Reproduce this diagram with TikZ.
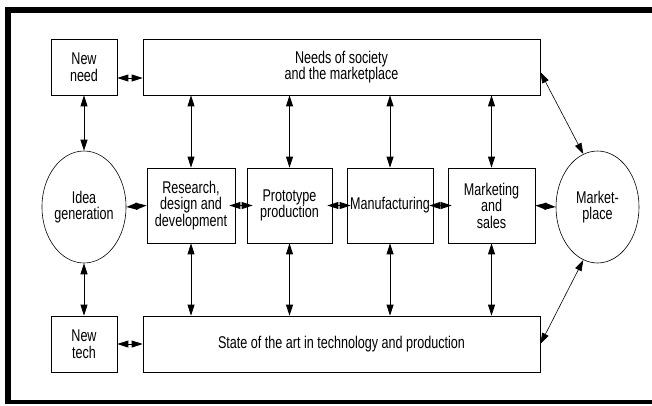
\documentclass[tikz,border=0pt]{standalone}
\usepackage{fontspec}
\setmainfont{Liberation Sans}[FakeStretch=0.74]
\usetikzlibrary{shapes.geometric,arrows.meta,calc}
\begin{document}
\begin{tikzpicture}[x=1pt,y=1pt,
  every node/.style={font=\fontsize{17}{16.5}\selectfont, align=center, inner sep=0pt},
  blk/.style={draw, line width=0.8pt, rectangle},
  oval/.style={draw, line width=0.6pt, ellipse, minimum width=84, minimum height=112},
  link/.style={line width=0.9pt, {Triangle[length=11pt,width=7pt]}-{Triangle[length=11pt,width=7pt]}}
]
\useasboundingbox (0,0) rectangle (652,405);
% frame: top, left and bottom bars
\fill (5,392) rectangle (652,398);
\fill (5,1) rectangle (11,398);
\fill (5,1) rectangle (652,5);

% upper row
\node[blk, minimum width=66, minimum height=56] (newneed) at (84,338) {New\\need};
\node[blk, minimum width=397, minimum height=56] (needs) at (341.5,338) {Needs of society\\and the marketplace};

% middle row
\node[oval] (idea) at (84,198) {Idea\\generation};
\node[blk, minimum width=88, minimum height=75] (research) at (191,199.5) {Research,\\design and\\development};
\node[blk, minimum width=85, minimum height=75] (proto) at (289.5,199.5) {Prototype\\production};
\node[blk, minimum width=86, minimum height=75] (manuf) at (390,199.5) {Manufacturing};
\node[blk, minimum width=87, minimum height=75] (mktg) at (491.5,199.5) {Marketing\\and\\sales};
\node[oval, minimum width=83] (mkt) at (597.5,198) {Market-\\place};

% lower row
\node[blk, minimum width=66, minimum height=56] (newtech) at (84,61) {New\\tech};
\node[blk, minimum width=397, minimum height=56] (state) at (341.5,61) {State of the art in technology and production};

% horizontal links (the short ones overlap the box edges)
\coordinate (nn) at ($(newneed.east)+(0,-11)$);
\draw[link] (nn) -- (nn -| needs.west);
\draw[link] (newtech.east) -- (state.west);
\draw[link] (idea.east) -- (research.west);
\draw[link, shorten <=-6pt, shorten >=-6pt] (research.east) -- (proto.west);
\draw[link, shorten <=-5pt, shorten >=-4pt] (proto.east) -- (manuf.west);
\draw[link, shorten <=-4pt, shorten >=-4pt] (manuf.east) -- (mktg.west);
\draw[link] (mktg.east) -- (mkt.west);

% vertical links
\draw[link] (newneed.south) -- (idea.north);
\draw[link] (idea.south) -- (newtech.north);
\foreach \b in {research,proto,manuf,mktg}{
  \draw[link] (\b.north) -- (\b.north |- needs.south);
  \draw[link] (\b.south) -- (\b.south |- state.north);
}

% diagonal links to the marketplace
\coordinate (ne) at ($(needs.north east)!0.59!(needs.south east)$);
\draw[link, line width=0.6pt] (ne) -- (mkt.105);
\draw[link, line width=0.6pt] (state.east) -- (mkt.-105);
\end{tikzpicture}
\end{document}
